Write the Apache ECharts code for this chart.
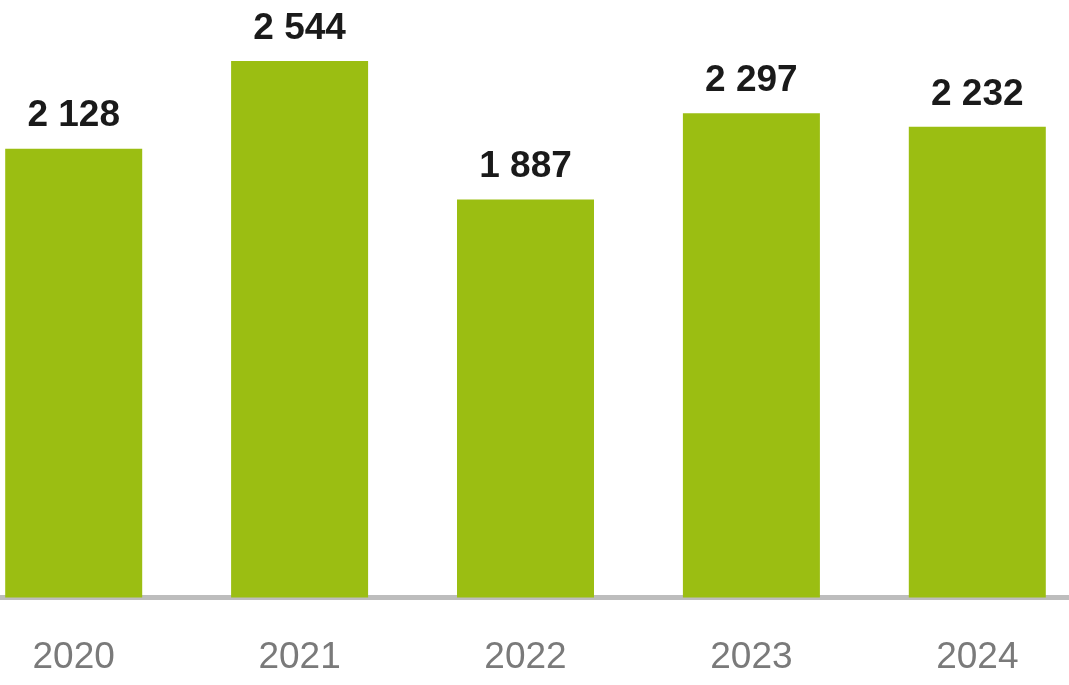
<!DOCTYPE html>
<html><head><meta charset="utf-8">
<script src="https://cdn.jsdelivr.net/npm/echarts@6/dist/echarts.min.js"></script>
<style>html,body{margin:0;padding:0;background:#fff}#c{width:1069px;height:685px}</style>
</head><body><div id="c"></div>
<script>
const categories = ['2020','2021','2022','2023','2024'];
const values = [2128, 2544, 1887, 2297, 2232];
const fmt = v => String(v).replace(/\B(?=(\d{3})+(?!\d))/g, ' ');
const chart = echarts.init(document.getElementById('c'));
chart.setOption({
  animation: false,
  grid: [
    {left: 0, right: 0, top: 7.1, bottom: 87.5, containLabel: false},
    {left: 73.7, right: 91.7, top: 7.1, bottom: 87.5, containLabel: false}
  ],
  xAxis: [
    {type: 'category', gridIndex: 0, data: [''], axisLine: {lineStyle: {color: '#bdbdbd', width: 5}},
     axisTick: {show: false}, axisLabel: {show: false}},
    {type: 'category', gridIndex: 1, data: categories, boundaryGap: false,
     axisLine: {show: false},
     axisTick: {show: false},
     axisLabel: {color: '#7a7a7a', fontSize: 37, fontFamily: 'Liberation Sans, Arial, sans-serif', margin: 42}}
  ],
  yAxis: [
    {type: 'value', gridIndex: 0, min: 0, max: 2800, show: false},
    {type: 'value', gridIndex: 1, min: 0, max: 2800, show: false, splitLine: {show: false}}
  ],
  series: [{
    type: 'bar', xAxisIndex: 1, yAxisIndex: 1, data: values, barWidth: 137, z: 1,
    itemStyle: {color: '#9bbe12'},
    label: {show: true, position: 'top', distance: 14, color: '#1a1a1a', fontSize: 37, fontWeight: 'bold',
      fontFamily: 'Liberation Sans, Arial, sans-serif', formatter: p => fmt(p.value)}
  }]
});
</script></body></html>
